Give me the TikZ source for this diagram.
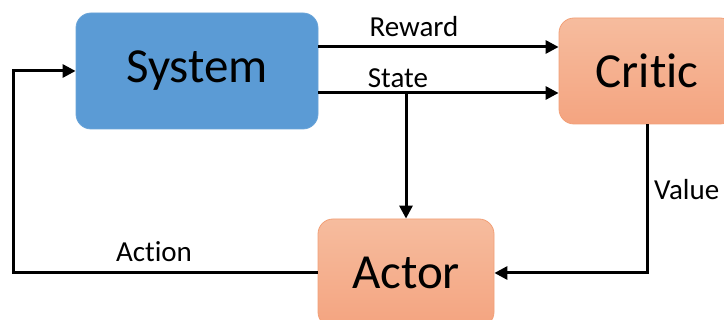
\documentclass[tikz,border=0pt]{standalone}
\usepackage{fontspec}
\setmainfont{Carlito}[RawFeature={-liga;-clig}]
\usetikzlibrary{arrows.meta}
\definecolor{sysblue}{HTML}{5B9BD5}
\definecolor{orTop}{RGB}{246,188,158}
\definecolor{orBot}{RGB}{244,164,128}
\definecolor{orEdge}{RGB}{242,160,120}
\tikzset{
  sysbox/.style={fill=sysblue, draw=sysblue!90!white, line width=0.8pt, rounded corners=15pt, inner sep=0pt},
  orbox/.style={top color=orTop, bottom color=orBot, draw=orEdge, line width=0.8pt, rounded corners=15pt, inner sep=0pt},
  big/.style={font=\fontsize{49}{56}\selectfont},
  lbl/.style={font=\fontsize{29}{34}\selectfont, inner sep=0pt},
  arr/.style={line width=3pt, -{Triangle[length=13pt,width=13pt]}},
  ln/.style={line width=3pt}
}
\begin{document}
\begin{tikzpicture}[x=1pt,y=-1pt]
\useasboundingbox (0,0) rectangle (724,320);
\clip (0,0) rectangle (724,320);
\fill[white] (0,0) rectangle (724,320);
\node[sysbox, minimum width=242pt, minimum height=116pt, big] (System) at (197,71) {System};
\node[orbox, minimum width=176pt, minimum height=106pt, big] (Critic) at (647,71) {Critic};
\node[orbox, minimum width=176pt, minimum height=108pt, big] (Actor) at (406,273) {Actor};
% labels
\node[lbl] (lreward) at (414,27) {Reward};
\node[lbl] (lstate) at (398,78) {State};
\node[lbl, anchor=west] (lvalue) at (654,190) {Value};
\node[lbl] (laction) at (154,252) {Action};
% connectors
\coordinate (r0) at (System.east |- 0,47);
\coordinate (s0) at (System.east |- 0,93);
\coordinate (sb) at (Actor.north |- 0,93);
\coordinate (ac) at (13,273);
\draw[arr] (r0) -- (Critic.west |- r0);
\draw[arr] (s0) -- (Critic.west |- s0);
\draw[arr] (sb) -- (Actor.north);
\draw[arr] (Critic.south) |- (Actor.east);
\draw[arr] (Actor.west) -- (ac) |- (System.west);
\end{tikzpicture}
\end{document}
